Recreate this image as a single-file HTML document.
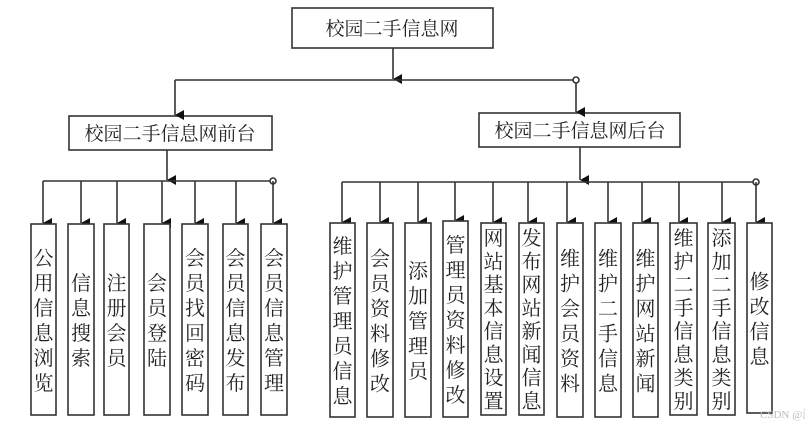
<!DOCTYPE html>
<html><head><meta charset="utf-8"><style>
html,body{margin:0;padding:0;background:#fff}
svg{display:block}
text{font-family:"Liberation Serif","Noto Serif CJK SC","Noto Sans CJK SC",serif;fill:#222}
</style></head><body>
<svg width="805" height="430" viewBox="0 0 805 430" xmlns="http://www.w3.org/2000/svg">
<defs><marker id="a" markerWidth="10" markerHeight="10" refX="5" refY="9" orient="auto" markerUnits="userSpaceOnUse"><path d="M0,0 L10,0 L5,9 z" fill="#111"/></marker></defs>
<g stroke="#333" stroke-width="1.6" fill="none">
<rect x="292" y="8" width="201" height="40" fill="#fff"/>
<rect x="69" y="116" width="203" height="34" fill="#fff"/>
<rect x="479" y="113" width="201" height="34" fill="#fff"/>
<line x1="393" y1="48" x2="393" y2="79" marker-end="url(#a)"/>
<line x1="175" y1="80" x2="576" y2="80"/>
<line x1="175" y1="80" x2="175" y2="115" marker-end="url(#a)"/>
<line x1="576" y1="83" x2="576" y2="112" marker-end="url(#a)"/>
<circle cx="576" cy="80" r="3" fill="#fff"/>
<line x1="167" y1="150" x2="167" y2="180" marker-end="url(#a)"/>
<line x1="43" y1="181" x2="273" y2="181"/>
<circle cx="273" cy="181" r="3" fill="#fff"/>
<line x1="580" y1="147" x2="580" y2="180" marker-end="url(#a)"/>
<line x1="342" y1="182" x2="756" y2="182"/>
<circle cx="756" cy="182" r="3" fill="#fff"/>
</g>
<text x="392" y="35" font-size="19" text-anchor="middle">校园二手信息网</text>
<text x="170" y="140" font-size="19" text-anchor="middle">校园二手信息网前台</text>
<text x="580" y="137" font-size="19" text-anchor="middle">校园二手信息网后台</text>
<g id="leaves"></g>
<text x="760" y="418" font-size="11" fill="#bbb" style="fill:#bbb">CSDN @渐仕</text>
</svg>
<script>
var ns="http://www.w3.org/2000/svg",g=document.getElementById('leaves');
var F=[[31,56,43,"公用信息浏览"],[68,94,81,"信息搜索"],[104,129,117,"注册会员"],[144,170,162,"会员登陆"],[182,208,195,"会员找回密码"],[223,248,236,"会员信息发布"],[261,287,273,"会员信息管理"]];
var B=[[330,355,342,"维护管理员信息",223,417],[367,393,380,"会员资料修改",223,417],[405,431,418,"添加管理员",223,417],[443,468,455,"管理员资料修改",221,417],[481,506,493,"网站基本信息设置",223,415],[519,544,528,"发布网站新闻信息",223,415],[557,583,567,"维护会员资料",223,417],[595,621,608,"维护二手信息",223,417],[633,658,642,"维护网站新闻",223,417],[670,697,679,"维护二手信息类别",223,415],[708,735,722,"添加二手信息类别",223,415],[747,772,756,"修改信息",223,413]];
F.forEach(function(f){f.push(224,415)});
function add(arr,ly){arr.forEach(function(b){
 var l=document.createElementNS(ns,'line');l.setAttribute('x1',b[2]);l.setAttribute('x2',b[2]);l.setAttribute('y1',ly);l.setAttribute('y2',b[4]-1);l.setAttribute('stroke','#333');l.setAttribute('stroke-width','1.6');l.setAttribute('marker-end','url(#a)');g.appendChild(l);
 var r=document.createElementNS(ns,'rect');r.setAttribute('x',b[0]);r.setAttribute('y',b[4]);r.setAttribute('width',b[1]-b[0]);r.setAttribute('height',b[5]-b[4]);r.setAttribute('fill','#fff');r.setAttribute('stroke','#333');r.setAttribute('stroke-width','1.6');g.appendChild(r);
 var s=b[3],n=s.length,lh=Math.min(25,(b[5]-b[4]-6)/n),cx=(b[0]+b[1])/2,cy=(b[4]+b[5])/2,y0=cy-lh*n/2;
 for(var i=0;i<n;i++){var t=document.createElementNS(ns,'text');t.setAttribute('x',cx);t.setAttribute('y',y0+lh*i+lh*0.82);t.setAttribute('font-size','20');t.setAttribute('text-anchor','middle');t.textContent=s[i];g.appendChild(t);}
});}
add(F,181);add(B,182);
</script>
</body></html>
